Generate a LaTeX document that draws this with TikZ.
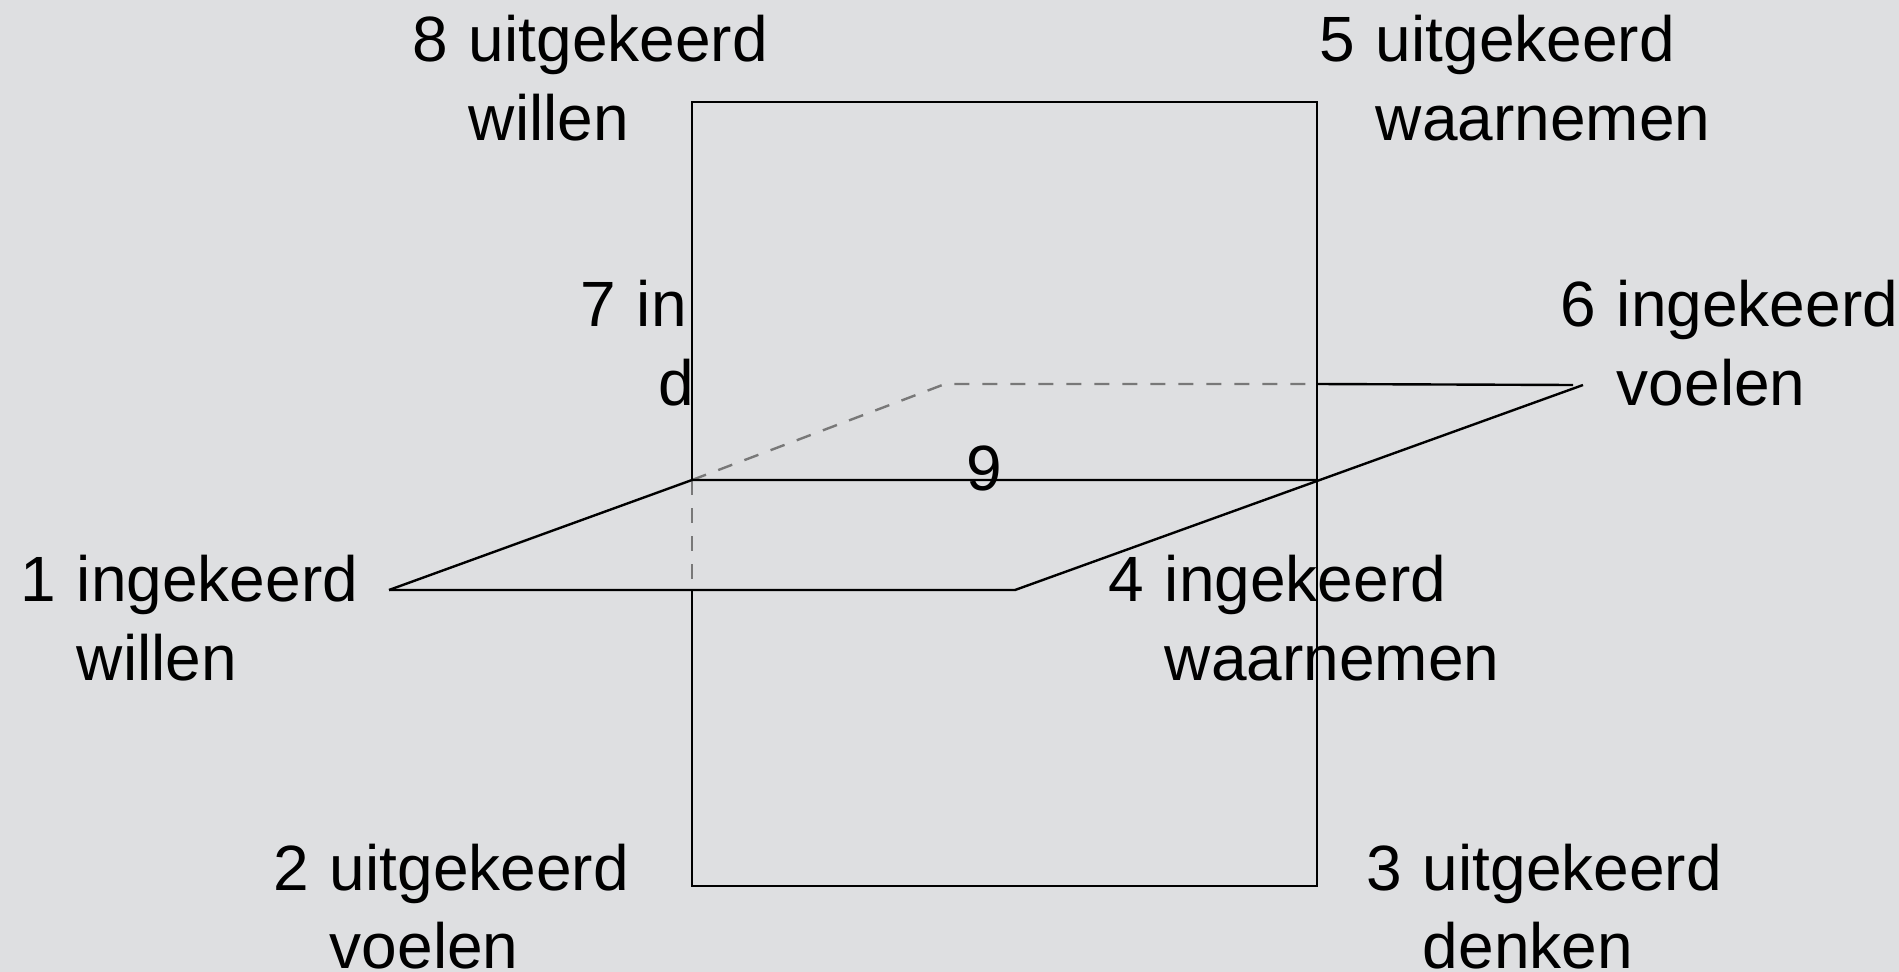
\documentclass[tikz,border=0pt]{standalone}
\usepackage{fontspec}
\setmainfont[WordSpace=1.2]{Liberation Sans}
\definecolor{bgc}{RGB}{222,223,225}
\definecolor{dashc}{RGB}{120,120,120}
\begin{document}
\begin{tikzpicture}[x=1pt,y=-1pt,
  edge/.style={draw=black,line width=2.4pt},
  hidden/.style={draw=dashc,line width=2.4pt,dash pattern=on 15pt off 13pt},
  lbl/.style={anchor=base west,inner sep=0pt,outer sep=0pt,font=\fontsize{64}{78}\selectfont}]
\fill[bgc] (0,0) rectangle (1899,972);
\useasboundingbox (0,0) rectangle (1899,972);
% vertical rectangle
\coordinate (TL) at (692,102);
\coordinate (TR) at (1317,102);
\coordinate (BL) at (692,886);
\coordinate (BR) at (1317,886);
\coordinate (LI) at (692,480);
\coordinate (RI) at (1317,480);
\coordinate (LB) at (692,590);
% horizontal plane
\coordinate (A) at (389,590);
\coordinate (B) at (1015,590);
\coordinate (C) at (1583,385);
\coordinate (Cb) at (1573,385);
\coordinate (D) at (945,384);
\coordinate (DR) at (1317,384);
% hidden parts
\draw[hidden] (LI) -- (D) -- (DR);
\draw[hidden] (LI) -- (LB);
% visible parts
\draw[edge] (LI) -- (TL) -- (TR) -- (BR) -- (BL) -- (LB);
\draw[edge] (A) -- (LI) -- (RI);
\draw[edge] (A) -- (B) -- (C);
\draw[edge] (DR) -- (Cb);
% labels
\node[lbl] (l8a) at (412,61.7) {8 uitgekeerd};
\node[lbl] (l8b) at (412,140) {\phantom{8 }willen};
\node[lbl] (l5a) at (1319,61.7) {5 uitgekeerd};
\node[lbl] (l5b) at (1319,140) {\phantom{5 }waarnemen};
\node[lbl] (l7a) at (580,326.7) {7 in};
\node[lbl,anchor=base east] (l7b) at (694,405) {d};
\node[lbl] (l6a) at (1560,326.7) {6 ingekeerd};
\node[lbl] (l6b) at (1560,405) {\phantom{6 }voelen};
\node[lbl,anchor=base] (l9) at (984,490) {9};
\node[lbl] (l1a) at (20,601.7) {1 ingekeerd};
\node[lbl] (l1b) at (20,680) {\phantom{1 }willen};
\node[lbl] (l4a) at (1108,601.7) {4 ingekeerd};
\node[lbl] (l4b) at (1108,680) {\phantom{4 }waarnemen};
\node[lbl] (l2a) at (273,890) {2 uitgekeerd};
\node[lbl] (l2b) at (273,968) {\phantom{2 }voelen};
\node[lbl] (l3a) at (1366,890) {3 uitgekeerd};
\node[lbl] (l3b) at (1366,968) {\phantom{3 }denken};
\end{tikzpicture}
\end{document}
